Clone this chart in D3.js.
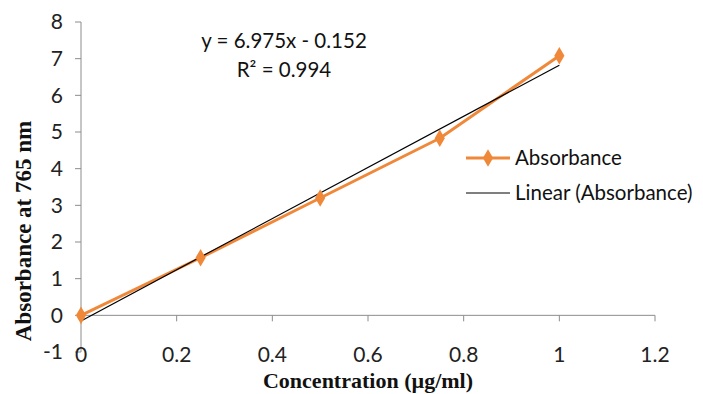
<!DOCTYPE html>
<html>
<head>
<meta charset="utf-8">
<script src="https://cdn.jsdelivr.net/npm/d3@7"></script>
<style>
  html, body { margin: 0; padding: 0; background: #fff; }
  svg { display: block; }
</style>
</head>
<body>
<svg id="chart" width="703" height="394"></svg>
<script>
// data
var conc = [0, 0.25, 0.5, 0.75, 1.0];
var absorb = [0, 1.57, 3.2, 4.83, 7.08];
var xTicks = [0, 0.2, 0.4, 0.6, 0.8, 1, 1.2];
var yTicks = [-1, 0, 1, 2, 3, 4, 5, 6, 7, 8];
var slope = 6.975;
var intercept = -0.152;
var eqLabels = ['y = 6.975x - 0.152', 'R² = 0.994'];
var legendLabels = ['Absorbance', 'Linear (Absorbance)'];

var orange = '#f0883a';
var axisGrey = '#8c8c8c';
var sans = 'Lato, "Open Sans", sans-serif';
var serif = '"Liberation Serif", "DejaVu Serif", serif';

var svg = d3.select('#chart');

var x = d3.scaleLinear().domain([0, 1.2]).range([81, 655]);
var y = d3.scaleLinear().domain([-1, 8]).range([352, 22]);

// y axis line + ticks
svg.append('line')
    .attr('x1', x(0)).attr('x2', x(0))
    .attr('y1', y(8)).attr('y2', y(-1))
    .attr('stroke', axisGrey).attr('stroke-width', 1);
svg.selectAll('.ytick').data(yTicks).enter().append('line')
    .attr('x1', x(0) - 6).attr('x2', x(0))
    .attr('y1', d => y(d)).attr('y2', d => y(d))
    .attr('stroke', axisGrey);
svg.selectAll('.ylab').data(yTicks).enter().append('text')
    .attr('x', 63).attr('y', d => y(d))
    .attr('dy', '0.35em')
    .attr('text-anchor', 'end')
    .attr('font-family', sans).attr('font-size', 21)
    .attr('fill', '#222')
    .text(d => d);

// x axis line (crosses at 0) + ticks
svg.append('line')
    .attr('x1', x(0)).attr('x2', x(1.2))
    .attr('y1', y(0)).attr('y2', y(0))
    .attr('stroke', axisGrey);
svg.selectAll('.xtick').data(xTicks).enter().append('line')
    .attr('x1', d => x(d)).attr('x2', d => x(d))
    .attr('y1', y(0)).attr('y2', y(0) + 6)
    .attr('stroke', axisGrey);
svg.selectAll('.xlab').data(xTicks).enter().append('text')
    .attr('x', d => x(d)).attr('y', 362)
    .attr('text-anchor', 'middle')
    .attr('font-family', sans).attr('font-size', 21)
    .attr('fill', '#222')
    .text(d => d);

// axis titles
svg.append('text')
    .attr('transform', 'translate(31,231) rotate(-90)')
    .attr('text-anchor', 'middle')
    .attr('font-family', serif).attr('font-weight', 'bold').attr('font-size', 23)
    .attr('fill', '#111')
    .text('Absorbance at 765 nm');
svg.append('text')
    .attr('x', 368).attr('y', 388)
    .attr('text-anchor', 'middle')
    .attr('font-family', serif).attr('font-weight', 'bold').attr('font-size', 22)
    .attr('fill', '#111')
    .text('Concentration (µg/ml)');

// data series
var line = d3.line().x((d, i) => x(conc[i])).y(d => y(d));
svg.append('path')
    .attr('d', line(absorb))
    .attr('fill', 'none')
    .attr('stroke', orange).attr('stroke-width', 3)
    .attr('stroke-linejoin', 'round');

// trendline
var trendX = [conc[0], conc[conc.length - 1]];
svg.append('line')
    .attr('x1', x(trendX[0])).attr('y1', y(slope * trendX[0] + intercept))
    .attr('x2', x(trendX[1])).attr('y2', y(slope * trendX[1] + intercept))
    .attr('stroke', '#000').attr('stroke-width', 1.2);

var diamond = d3.symbol().type(d3.symbolDiamond).size(90);
svg.selectAll('.pt').data(absorb).enter().append('path')
    .attr('d', diamond)
    .attr('transform', (d, i) => 'translate(' + x(conc[i]) + ',' + y(d) + ')')
    .attr('fill', orange);

// equation
svg.selectAll('.eq').data(eqLabels).enter().append('text')
    .attr('x', 284).attr('y', (d, i) => 48 + i * 29)
    .attr('text-anchor', 'middle')
    .attr('font-family', sans).attr('font-size', 20.5)
    .attr('fill', '#111')
    .text(d => d);

// legend
var lg = svg.append('g');
lg.append('line')
    .attr('x1', 466).attr('x2', 510).attr('y1', 158).attr('y2', 158)
    .attr('stroke', orange).attr('stroke-width', 3);
lg.append('path')
    .attr('d', diamond)
    .attr('transform', 'translate(488,158)')
    .attr('fill', orange);
lg.append('line')
    .attr('x1', 466).attr('x2', 510).attr('y1', 193).attr('y2', 193)
    .attr('stroke', '#000').attr('stroke-width', 1.2);
lg.selectAll('.lt').data(legendLabels).enter().append('text')
    .attr('x', 515).attr('y', (d, i) => 158 + i * 35)
    .attr('dy', '0.35em')
    .attr('font-family', sans).attr('font-size', 20.5)
    .attr('fill', '#111')
    .text(d => d);
</script>
</body>
</html>
